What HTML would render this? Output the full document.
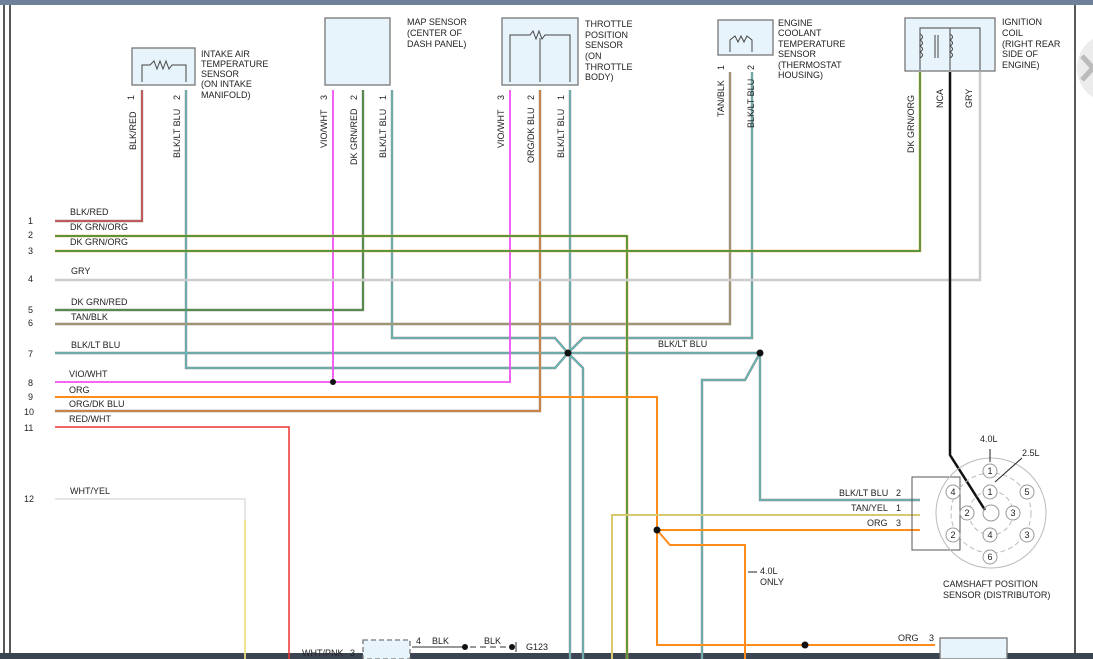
<!DOCTYPE html>
<html><head><meta charset="utf-8"><style>
html,body{margin:0;padding:0;background:#fff;width:1093px;height:659px;overflow:hidden}
svg{display:block}
text{font-family:"Liberation Sans",sans-serif;font-size:9px;fill:#222}
</style></head><body>
<svg width="1093" height="659" viewBox="0 0 1093 659" xmlns="http://www.w3.org/2000/svg">
<rect x="0" y="0" width="1093" height="5" fill="#6e8199"/>
<rect x="0" y="653" width="1093" height="6" fill="#3b4552"/>
<line x1="4" y1="5" x2="4" y2="653" stroke="#222" stroke-width="1.5"/>
<line x1="10" y1="5" x2="10" y2="653" stroke="#222" stroke-width="1.5"/>
<line x1="1075" y1="5" x2="1075" y2="653" stroke="#222" stroke-width="1.5"/>
<circle cx="1112" cy="68" r="35" fill="#ececec"/>
<path d="M1082 56 L1093 68 M1082 80 L1093 68" stroke="#bbb" stroke-width="5" fill="none"/>

<g fill="none" stroke-linejoin="miter">
<g stroke="#888" stroke-width="2.4">
<polyline points="142,90 142,221 55,221"/>
<polyline points="186,90 186,368 555,368 568,353"/>
<polyline points="363,90 363,310 55,310"/>
<polyline points="392,90 392,338 555,338 568,353"/>
<polyline points="570,90 570,353 570,659"/>
<polyline points="583,659 583,368 568,353"/>
<polyline points="752,72 752,338 583,338 568,353"/>
<polyline points="730,72 730,324 55,324"/>
<polyline points="55,353 760,353 745,380 702,380 702,659"/>
<polyline points="760,353 760,500 920,500"/>
<polyline points="540,90 540,411 55,411"/>
</g>
<polyline points="142,90 142,221 55,221" stroke="#e04040" stroke-width="1.2"/>
<polyline points="186,90 186,368 555,368 568,353" stroke="#5cc" stroke-width="1"/>
<polyline points="392,90 392,338 555,338 568,353" stroke="#5cc" stroke-width="1"/>
<polyline points="570,90 570,659" stroke="#5cc" stroke-width="1"/>
<polyline points="583,659 583,368 568,353" stroke="#5cc" stroke-width="1"/>
<polyline points="752,72 752,338 583,338 568,353" stroke="#5cc" stroke-width="1"/>
<polyline points="55,353 760,353 745,380 702,380 702,659" stroke="#5cc" stroke-width="1"/>
<polyline points="760,353 760,500 920,500" stroke="#5cc" stroke-width="1"/>
<polyline points="363,90 363,310 55,310" stroke="#3a8a2a" stroke-width="1.2"/>
<polyline points="730,72 730,324 55,324" stroke="#b09a68" stroke-width="1.2"/>
<polyline points="540,90 540,411 55,411" stroke="#f08020" stroke-width="1.2"/>
<polyline points="333,90 333,382" stroke="#f050f0" stroke-width="1.8"/>
<polyline points="510,90 510,382 55,382" stroke="#f050f0" stroke-width="1.8"/>
<polyline points="55,236 627,236 627,659" stroke="#e8b060" stroke-width="2.6"/>
<polyline points="55,236 627,236 627,659" stroke="#2e8b2e" stroke-width="1.4"/>
<polyline points="920,72 920,251 55,251" stroke="#e8b060" stroke-width="2.6"/>
<polyline points="920,72 920,251 55,251" stroke="#2e8b2e" stroke-width="1.4"/>
<polyline points="980,72 980,280 55,280" stroke="#ccc" stroke-width="2.5"/>
<polyline points="950,72 950,455 985,510" stroke="#111" stroke-width="2.5"/>
<polyline points="55,397 657,397 657,530 920,530" stroke="#ff8c1a" stroke-width="2"/>
<polyline points="657,530 670,545 745,545 745,659" stroke="#ff8c1a" stroke-width="2"/>
<polyline points="657,530 657,645 935,645" stroke="#ff8c1a" stroke-width="2"/>
<polyline points="55,427 289,427 289,659" stroke="#e33" stroke-width="1.5"/>
<polyline points="55,499 245,499 245,659" stroke="#ddd" stroke-width="1.5"/>
<polyline points="245,520 245,659" stroke="#f0e070" stroke-width="1.5"/>
<polyline points="920,515 612,515 612,659" stroke="#d8c870" stroke-width="2"/>
</g>
<g fill="#111">
<circle cx="568" cy="353" r="3.5"/><circle cx="760" cy="353" r="3.5"/>
<circle cx="333" cy="382" r="3"/><circle cx="657" cy="530" r="3.5"/>
<circle cx="805" cy="645" r="3.5"/><circle cx="950" cy="28" r="2"/>
</g>

<g fill="#e8f4fb" stroke="#777" stroke-width="1.3">
<rect x="132" y="48" width="63" height="37"/>
<rect x="325" y="18" width="65" height="67"/>
<rect x="502" y="18" width="76" height="67"/>
<rect x="718" y="20" width="55" height="35"/>
<rect x="905" y="18" width="90" height="53"/>
<rect x="940" y="638" width="67" height="21"/>
<rect x="363" y="640" width="47" height="19" stroke-dasharray="5,3"/>
</g>
<g fill="none" stroke="#444" stroke-width="1">
<polyline points="142,82 142,65 150,65 154,61 157,69 160,61 163,69 166,61 169,69 172,65 186,65 186,82"/>
<polyline points="510,82 510,35 530,35 533,31 536,39 539,31 542,39 545,35 570,35 570,82"/>
<line x1="540" y1="38" x2="540" y2="82"/>
<polyline points="730,52 730,40 735,36 738,42 741,36 744,42 747,36 752,40 752,52"/>
<polyline points="920,70 920,28 980,28 980,70"/>
<line x1="950" y1="28" x2="950" y2="70"/>
<path d="M920 34 q5 3 0 6 q5 3 0 6 q5 3 0 6 q5 3 0 6 M950 34 q5 3 0 6 q5 3 0 6 q5 3 0 6 q5 3 0 6"/>
<line x1="935" y1="35" x2="935" y2="58"/><line x1="938" y1="35" x2="938" y2="58"/>
<rect x="912" y="477" width="48" height="73" stroke="#555"/>
<circle cx="991" cy="513" r="55" stroke="#bbb"/>
<circle cx="991" cy="513" r="40" stroke="#bbb" stroke-dasharray="5,3"/>
<circle cx="991" cy="513" r="22" stroke="#bbb" stroke-dasharray="5,3"/>
<circle cx="991" cy="513" r="8" stroke="#999"/>
</g>
<g fill="#fff" stroke="#999">
<circle cx="990" cy="471" r="7"/><circle cx="990" cy="492" r="7"/><circle cx="953" cy="492" r="7"/>
<circle cx="1027" cy="492" r="7"/><circle cx="967" cy="513" r="7"/><circle cx="1013" cy="513" r="7"/>
<circle cx="953" cy="535" r="7"/><circle cx="990" cy="535" r="7"/><circle cx="1027" cy="535" r="7"/>
<circle cx="990" cy="557" r="7"/>
</g>
<g text-anchor="middle" font-size="8">
<text x="990" y="474">1</text><text x="990" y="495">1</text><text x="953" y="495">4</text>
<text x="1027" y="495">5</text><text x="967" y="516">2</text><text x="1013" y="516">3</text>
<text x="953" y="538">2</text><text x="990" y="538">4</text><text x="1027" y="538">3</text>
<text x="990" y="560">6</text>
</g>
<line x1="990" y1="449" x2="990" y2="462" stroke="#222"/>
<line x1="1022" y1="458" x2="995" y2="482" stroke="#222"/>

<text x="201" y="57">INTAKE AIR</text><text x="201" y="67">TEMPERATURE</text><text x="201" y="77">SENSOR</text><text x="201" y="87">(ON INTAKE</text><text x="201" y="98">MANIFOLD)</text>
<text x="407" y="25">MAP SENSOR</text><text x="407" y="36">(CENTER OF</text><text x="407" y="47">DASH PANEL)</text>
<text x="585" y="27">THROTTLE</text><text x="585" y="38">POSITION</text><text x="585" y="48">SENSOR</text><text x="585" y="59">(ON</text><text x="585" y="70">THROTTLE</text><text x="585" y="80">BODY)</text>
<text x="778" y="26">ENGINE</text><text x="778" y="36">COOLANT</text><text x="778" y="47">TEMPERATURE</text><text x="778" y="57">SENSOR</text><text x="778" y="68">(THERMOSTAT</text><text x="778" y="78">HOUSING)</text>
<text x="1002" y="25">IGNITION</text><text x="1002" y="36">COIL</text><text x="1002" y="47">(RIGHT REAR</text><text x="1002" y="57">SIDE OF</text><text x="1002" y="68">ENGINE)</text>
<text x="943" y="587">CAMSHAFT POSITION</text><text x="943" y="598">SENSOR  (DISTRIBUTOR)</text>
<text x="980" y="442">4.0L</text><text x="1022" y="456">2.5L</text>
<text x="760" y="574">4.0L</text><text x="760" y="585">ONLY</text>
<line x1="748" y1="572" x2="757" y2="572" stroke="#222"/>

<g font-size="8.5">
<text transform="translate(136,150) rotate(-90)">BLK/RED</text>
<text transform="translate(180,158) rotate(-90)">BLK/LT BLU</text>
<text transform="translate(327,148) rotate(-90)">VIO/WHT</text>
<text transform="translate(357,165) rotate(-90)">DK GRN/RED</text>
<text transform="translate(386,158) rotate(-90)">BLK/LT BLU</text>
<text transform="translate(504,148) rotate(-90)">VIO/WHT</text>
<text transform="translate(534,163) rotate(-90)">ORG/DK BLU</text>
<text transform="translate(564,158) rotate(-90)">BLK/LT BLU</text>
<text transform="translate(724,117) rotate(-90)">TAN/BLK</text>
<text transform="translate(754,128) rotate(-90)">BLK/LT BLU</text>
<text transform="translate(914,153) rotate(-90)">DK GRN/ORG</text>
<text transform="translate(943,108) rotate(-90)">NCA</text>
<text transform="translate(972,108) rotate(-90)">GRY</text>
<text transform="translate(134,100) rotate(-90)">1</text>
<text transform="translate(180,100) rotate(-90)">2</text>
<text transform="translate(327,100) rotate(-90)">3</text>
<text transform="translate(357,100) rotate(-90)">2</text>
<text transform="translate(386,100) rotate(-90)">1</text>
<text transform="translate(504,100) rotate(-90)">3</text>
<text transform="translate(534,100) rotate(-90)">2</text>
<text transform="translate(564,100) rotate(-90)">1</text>
<text transform="translate(724,70) rotate(-90)">1</text>
<text transform="translate(754,70) rotate(-90)">2</text>
</g>

<g font-size="8.5">
<text x="28" y="224">1</text><text x="28" y="238">2</text><text x="28" y="254">3</text><text x="28" y="282">4</text>
<text x="28" y="313">5</text><text x="28" y="326">6</text><text x="28" y="357">7</text><text x="28" y="386">8</text>
<text x="28" y="400">9</text><text x="24" y="415">10</text><text x="24" y="431">11</text><text x="24" y="502">12</text>
<text x="70" y="215">BLK/RED</text><text x="70" y="230">DK GRN/ORG</text><text x="70" y="245">DK GRN/ORG</text>
<text x="71" y="274">GRY</text><text x="71" y="305">DK GRN/RED</text><text x="71" y="320">TAN/BLK</text>
<text x="71" y="348">BLK/LT BLU</text><text x="69" y="377">VIO/WHT</text><text x="69" y="393">ORG</text>
<text x="69" y="407">ORG/DK BLU</text><text x="69" y="422">RED/WHT</text><text x="70" y="494">WHT/YEL</text>
<text x="658" y="347">BLK/LT BLU</text>
<text x="839" y="496">BLK/LT BLU</text><text x="896" y="496">2</text>
<text x="851" y="511">TAN/YEL</text><text x="896" y="511">1</text>
<text x="867" y="526">ORG</text><text x="896" y="526">3</text>
<text x="898" y="641">ORG</text><text x="929" y="641">3</text>
<text x="302" y="656">WHT/PNK</text><text x="350" y="656">3</text>
<text x="416" y="644">4</text><text x="432" y="644">BLK</text><text x="484" y="644">BLK</text><text x="526" y="650">G123</text>
</g>
<line x1="412" y1="647" x2="465" y2="647" stroke="#777" stroke-width="1.5"/>
<line x1="470" y1="647" x2="510" y2="647" stroke="#777" stroke-width="1.5" stroke-dasharray="6,4"/>
<circle cx="465" cy="647" r="3" fill="#111"/><circle cx="512" cy="647" r="3" fill="#111"/>
<line x1="516" y1="642" x2="516" y2="652" stroke="#333"/>
</svg>
</body></html>
